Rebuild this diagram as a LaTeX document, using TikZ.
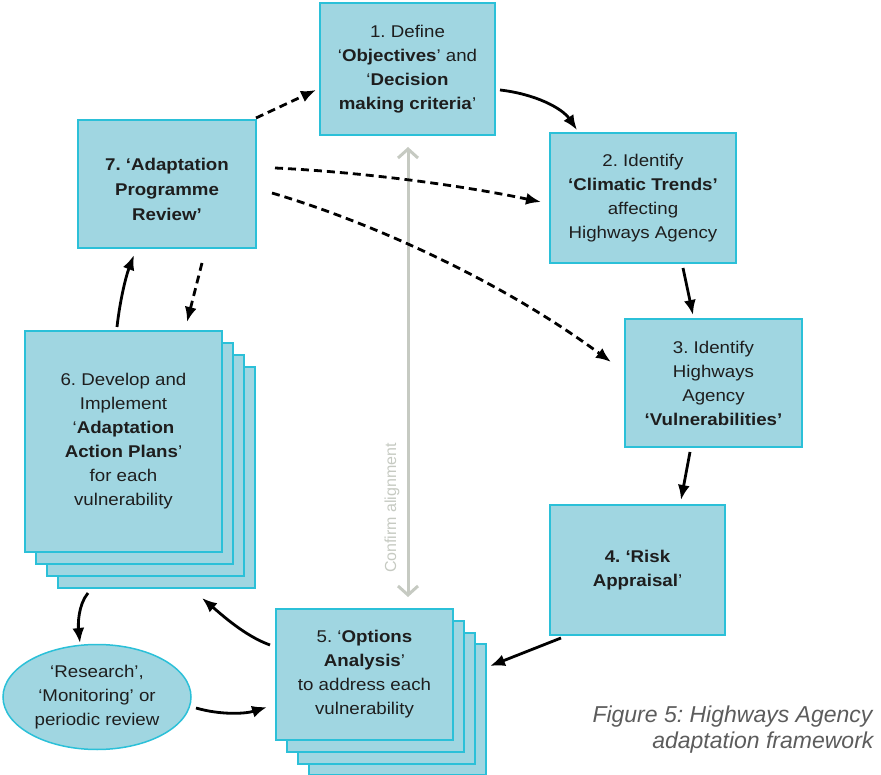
\documentclass[tikz,border=0pt]{standalone}
\usepackage{fontspec}
\setmainfont{Liberation Sans}
\newfontfamily\boxfont{Liberation Sans}[FakeStretch=1.1]
\usetikzlibrary{arrows.meta,calc,shapes.geometric}
\definecolor{boxfill}{HTML}{A0D6E1}
\definecolor{boxline}{HTML}{2BC0D8}
\definecolor{txt}{HTML}{1E1E1E}
\definecolor{confirmgray}{HTML}{C6CAC2}
\definecolor{captiongray}{HTML}{5C5C5C}
\frenchspacing
\begin{document}
\begin{tikzpicture}[x=1pt,y=-1pt,
  stepbox/.style={draw=boxline, fill=boxfill, line width=1.8pt, inner sep=0pt, outer sep=0pt,
    align=center, text=txt, font=\boxfont\fontsize{17}{24}\selectfont},
  stackbox/.style={draw=boxline, fill=boxfill, line width=1.8pt, inner sep=0pt, outer sep=0pt},
  arr/.style={-{Latex[length=15pt,width=12pt]}, line width=2.8pt, black},
  darr/.style={arr, dash pattern=on 8pt off 5pt},
  confirmarr/.style={{Straight Barb[length=9pt,width=20pt]}-{Straight Barb[length=9pt,width=20pt]}, line width=3pt, confirmgray},
  captxt/.style={anchor=base east, text=captiongray, font=\itshape\fontsize{23}{27}\selectfont}
]
\useasboundingbox (0,0) rectangle (881,775);

% box 1
\node[stepbox, minimum width=175pt, minimum height=132pt] (b1) at (407.5,69)
  {1. Define\\‘\textbf{Objectives}’ and\\‘\textbf{Decision}\\\textbf{making criteria}’};
% box 2
\node[stepbox, minimum width=186pt, minimum height=130pt] (b2) at (643,198)
  {2. Identify\\\textbf{‘Climatic Trends’}\\affecting\\Highways Agency};
% box 3
\node[stepbox, minimum width=177pt, minimum height=128pt] (b3) at (713.5,383)
  {3. Identify\\Highways\\Agency\\\textbf{‘Vulnerabilities’}};
% box 4
\node[stepbox, minimum width=175pt, minimum height=130pt] (b4) at (637.5,570)
  {\textbf{4. ‘Risk}\\\textbf{Appraisal}’};
% box 5 stack
\node[stackbox, minimum width=177pt, minimum height=131pt] (b5c) at (397.5,709.5) {};
\node[stackbox, minimum width=177pt, minimum height=131pt] (b5b) at (386.5,698.5) {};
\node[stackbox, minimum width=177pt, minimum height=131pt] (b5a) at (375.5,686.5) {};
\node[stepbox, minimum width=177pt, minimum height=131pt] (b5) at (364.5,674.5)
  {5. ‘\textbf{Options}\\\textbf{Analysis}’\\to address each\\vulnerability};
% box 6 stack
\node[stackbox, minimum width=197pt, minimum height=221pt] (b6c) at (156.5,477.5) {};
\node[stackbox, minimum width=197pt, minimum height=221pt] (b6b) at (145.5,465.5) {};
\node[stackbox, minimum width=197pt, minimum height=221pt] (b6a) at (134.5,453.5) {};
\node[stepbox, minimum width=197pt, minimum height=221pt] (b6) at (123.5,441.5)
  {6. Develop and\\Implement\\‘\textbf{Adaptation}\\\textbf{Action Plans}’\\for each\\vulnerability};
% box 7
\node[stepbox, minimum width=178pt, minimum height=128pt] (b7) at (167,184) {};
\node[text=txt, align=center, font=\boxfont\fontsize{17}{25}\selectfont\bfseries] (t7) at (167,189)
  {7. ‘Adaptation\\Programme\\Review’};
% ellipse
\node[ellipse, draw=boxline, fill=boxfill, line width=1.5pt, minimum width=188pt, minimum height=105pt,
  inner sep=0pt, outer sep=0pt, align=center, text=txt, font=\boxfont\fontsize{17}{24}\selectfont]
  (ell) at (97,697) {‘Research’,\\‘Monitoring’ or\\periodic review};

% confirm alignment
\draw[confirmarr] ($(b1.south)+(0.5,12)$) -- ($(b1.south |- b5.north)+(0.5,-12)$);
\node[rotate=90, text=confirmgray, font=\fontsize{16}{16}\selectfont] (lbl) at (392,508) {Confirm alignment};

% arrows
\draw[darr] ($(b7.north east)+(0,-2)$) -- ($(b1.west)+(-4,21)$);
\draw[arr] ($(b1.east)+(5,21)$) .. controls (535,94) and (562,108) .. ($(b2.north)+(-66,-3)$);
\draw[darr] ($(b7.east)+(19,-16)$) .. controls (360,172) and (460,185) .. ($(b2.west)+(-9,4)$);
\draw[darr] ($(b7.east)+(16,9)$) .. controls (370,222) and (500,280) .. ($(b3.west)+(-14,-21)$);
\draw[arr] ($(b2.south)+(40,5)$) -- ($(b3.north)+(-20.5,-4)$);
\draw[arr] ($(b3.south)+(-23.5,5)$) -- ($(b4.north)+(43.5,-5)$);
\draw[arr] ($(b4.south west)+(11,3)$) -- ($(b5.east)+(37,-8.5)$);
\draw[arr] ($(b5.west)+(-6,-29.5)$) .. controls (245,636) and (222,615) .. ($(b6.south)+(78.5,46)$);
\draw[arr] ($(b6.south)+(-35.5,41)$) .. controls (78,605) and (78,625) .. ($(ell.north)+(-17,-1.5)$);
\draw[arr] ($(ell.east)+(5,11)$) .. controls (220,715) and (245,714) .. ($(b5.west)+(-9,32.5)$);
\draw[arr] ($(b6.north)+(-6.5,-4)$) .. controls (120,300) and (126,276) .. ($(b7.south)+(-33,7)$);
\draw[darr] ($(b7.south)+(35,15)$) -- ($(b6.north)+(63.5,-9)$);

% caption
\node[captxt] (cap1) at (876,722) {Figure 5: Highways Agency};
\node[captxt] (cap2) at (877,748) {adaptation framework};
\end{tikzpicture}
\end{document}
